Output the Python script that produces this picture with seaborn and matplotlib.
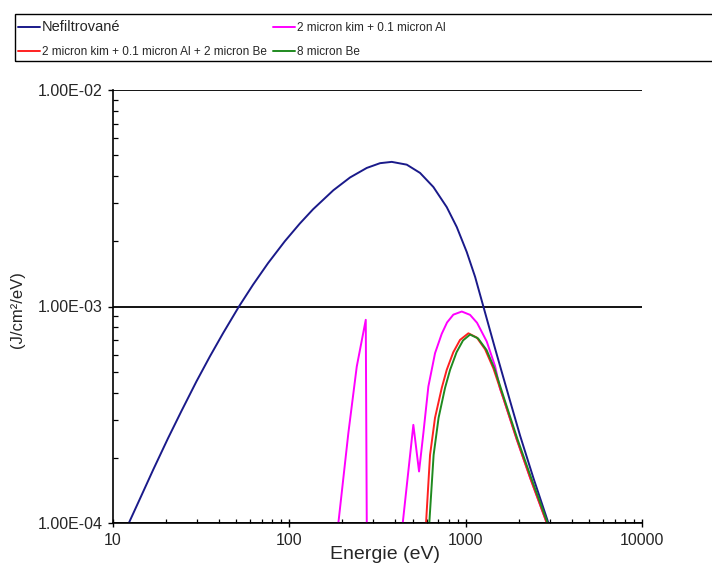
import numpy as np
import pandas as pd
import seaborn as sns
import matplotlib
matplotlib.use("Agg")
import matplotlib.pyplot as plt
import matplotlib.ticker as mticker
from matplotlib.patches import Rectangle

# ---- data ----
series_names = ["Nefiltrované",
                "2 micron kim + 0.1 micron Al",
                "2 micron kim + 0.1 micron Al + 2 micron Be",
                "8 micron Be"]
series_colors = ["#1a1a8a", "#ff00ff", "#ff2020", "#1f8a1f"]

energy_nf = [12.3, 14.2, 16.9, 20.5, 24.4, 29.7, 35.4, 42.1, 51.8, 62.3, 75.7, 94.2, 114.6,
             136.3, 177.7, 221, 274.8, 327, 380.9, 463.4, 551.2, 655.8, 781.2, 890.3, 1014,
             1131, 1260, 1468, 1567, 1786, 2036, 2421, 2945]
flux_nf = [1.0e-4, 1.291e-4, 1.762e-4, 2.46e-4, 3.28e-4, 4.50e-4, 5.87e-4, 7.53e-4, 1.0e-3,
           1.262e-3, 1.585e-3, 2.0e-3, 2.415e-3, 2.812e-3, 3.443e-3, 3.945e-3, 4.365e-3,
           4.592e-3, 4.656e-3, 4.52e-3, 4.14e-3, 3.565e-3, 2.877e-3, 2.328e-3, 1.786e-3,
           1.371e-3, 1.0e-3, 6.40e-4, 5.31e-4, 3.66e-4, 2.53e-4, 1.615e-4, 1.0e-4]

energy_mg = [189.7, 216.1, 241.2, 271.3, 276.0, 435, 439.7, 505, 544, 575.6, 614.4, 670.5,
             731.6, 784.3, 851.5, 950.4, 1059, 1160, 1317, 1468, 1567, 1636, 1950, 2319, 2884]
flux_mg = [1.0e-4, 2.60e-4, 5.28e-4, 8.68e-4, 5e-5, 5e-5, 1.0e-4, 2.84e-4, 1.73e-4, 2.60e-4,
           4.27e-4, 6.09e-4, 7.48e-4, 8.44e-4, 9.17e-4, 9.48e-4, 9.15e-4, 8.41e-4, 6.89e-4,
           5.30e-4, 4.17e-4, 3.77e-4, 2.43e-4, 1.62e-4, 1.0e-4]

energy_rd = [596, 628, 670, 732, 781, 851, 929, 1036, 1156, 1288, 1436, 1636, 1950, 2319, 2884]
flux_rd = [1.0e-4, 2.06e-4, 3.06e-4, 4.21e-4, 5.10e-4, 6.15e-4, 7.01e-4, 7.52e-4, 7.19e-4,
           6.35e-4, 5.18e-4, 3.77e-4, 2.43e-4, 1.62e-4, 1.0e-4]

energy_gn = [622, 658, 702, 764, 816, 888, 966, 1059, 1176, 1313, 1459, 1651, 1970, 2350, 2914]
flux_gn = [1.0e-4, 2.06e-4, 3.06e-4, 4.21e-4, 5.10e-4, 6.15e-4, 6.97e-4, 7.42e-4, 7.12e-4,
           6.30e-4, 5.15e-4, 3.77e-4, 2.43e-4, 1.62e-4, 1.0e-4]

x_ticks = [10, 100, 1000, 10000]
x_ticklabels = ["10", "100", "1000", "10000"]
y_ticks = [1e-4, 1e-3, 1e-2]
y_ticklabels = ["1.00E-04", "1.00E-03", "1.00E-02"]

# ---- build long table ----
frames = []
for name, e, f in zip(series_names,
                      [energy_nf, energy_mg, energy_rd, energy_gn],
                      [flux_nf, flux_mg, flux_rd, flux_gn]):
    frames.append(pd.DataFrame({"Energie": e, "Flux": f, "series": name}))
df = pd.concat(frames, ignore_index=True)

sns.set_style("white")
plt.rcParams["font.family"] = ["Liberation Sans", "DejaVu Sans"]

fig = plt.figure(figsize=(7.12, 5.65), dpi=100)
ax = fig.add_axes([113 / 712, 1 - 523 / 565, 529 / 712, 433 / 565])

sns.lineplot(data=df, x="Energie", y="Flux", hue="series", hue_order=series_names,
             palette=series_colors, estimator=None, sort=False, linewidth=1.4, ax=ax)
for line in ax.get_lines():
    line.set_solid_joinstyle("round")

ax.set_xscale("log")
ax.set_yscale("log")
ax.set_xlim(10, 10000)
ax.set_ylim(1e-4, 1e-2)

ax.set_xticks(x_ticks)
ax.set_xticklabels(x_ticklabels)
ax.set_yticks(y_ticks)
ax.set_yticklabels(y_ticklabels)
ax.xaxis.set_minor_locator(mticker.LogLocator(base=10, subs=np.arange(2, 10)))
ax.yaxis.set_minor_locator(mticker.LogLocator(base=10, subs=np.arange(2, 10)))
ax.xaxis.set_minor_formatter(mticker.NullFormatter())
ax.yaxis.set_minor_formatter(mticker.NullFormatter())

ax.tick_params(axis="x", which="major", direction="inout", length=6, width=1,
               color="black", labelsize=11.5, pad=4)
ax.tick_params(axis="x", which="minor", direction="in", length=3, width=0.9, color="black")
ax.tick_params(axis="y", which="major", direction="out", length=3.5, width=1,
               color="black", labelsize=11.5, pad=4)
ax.tick_params(axis="y", which="minor", direction="in", length=3.5, width=0.9, color="black")
ax.tick_params(bottom=True, left=True, which="both")

ax.yaxis.grid(True, which="major", color="black", linewidth=1.3)
ax.xaxis.grid(False)
for side in ["top", "right"]:
    ax.spines[side].set_visible(False)
for side in ["left", "bottom"]:
    ax.spines[side].set_color("black")
    ax.spines[side].set_linewidth(1.2)

ax.set_xlabel("Energie (eV)", fontsize=14)
ax.xaxis.set_label_coords(0.514, -0.054)
ax.set_ylabel("(J/cm²/eV)", fontsize=12)
ax.yaxis.set_label_coords(-0.166, 0.494)

# legend: row-major order as in reference
handles, labels = ax.get_legend_handles_labels()
ax.get_legend().remove()
order = [0, 2, 1, 3]
leg = fig.legend([handles[i] for i in order], [labels[i] for i in order],
                 loc="upper left", bbox_to_anchor=(18 / 712, 1 - 20 / 565),
                 ncol=2, frameon=False, fontsize=8.5, handlelength=1.85,
                 handletextpad=0.2, columnspacing=0.5, labelspacing=1.0,
                 borderpad=0, borderaxespad=0)
for t in leg.get_texts():
    if t.get_text() == "Nefiltrované":
        t.set_fontsize(10.5)
for l in leg.get_lines():
    l.set_linewidth(1.4)

fig.add_artist(Rectangle((15 / 712, 1 - 61 / 565), 1.0, 47 / 565,
                         transform=fig.transFigure, fill=False,
                         edgecolor="black", linewidth=1.0, clip_on=False))

fig.savefig("out.png", dpi=100)
